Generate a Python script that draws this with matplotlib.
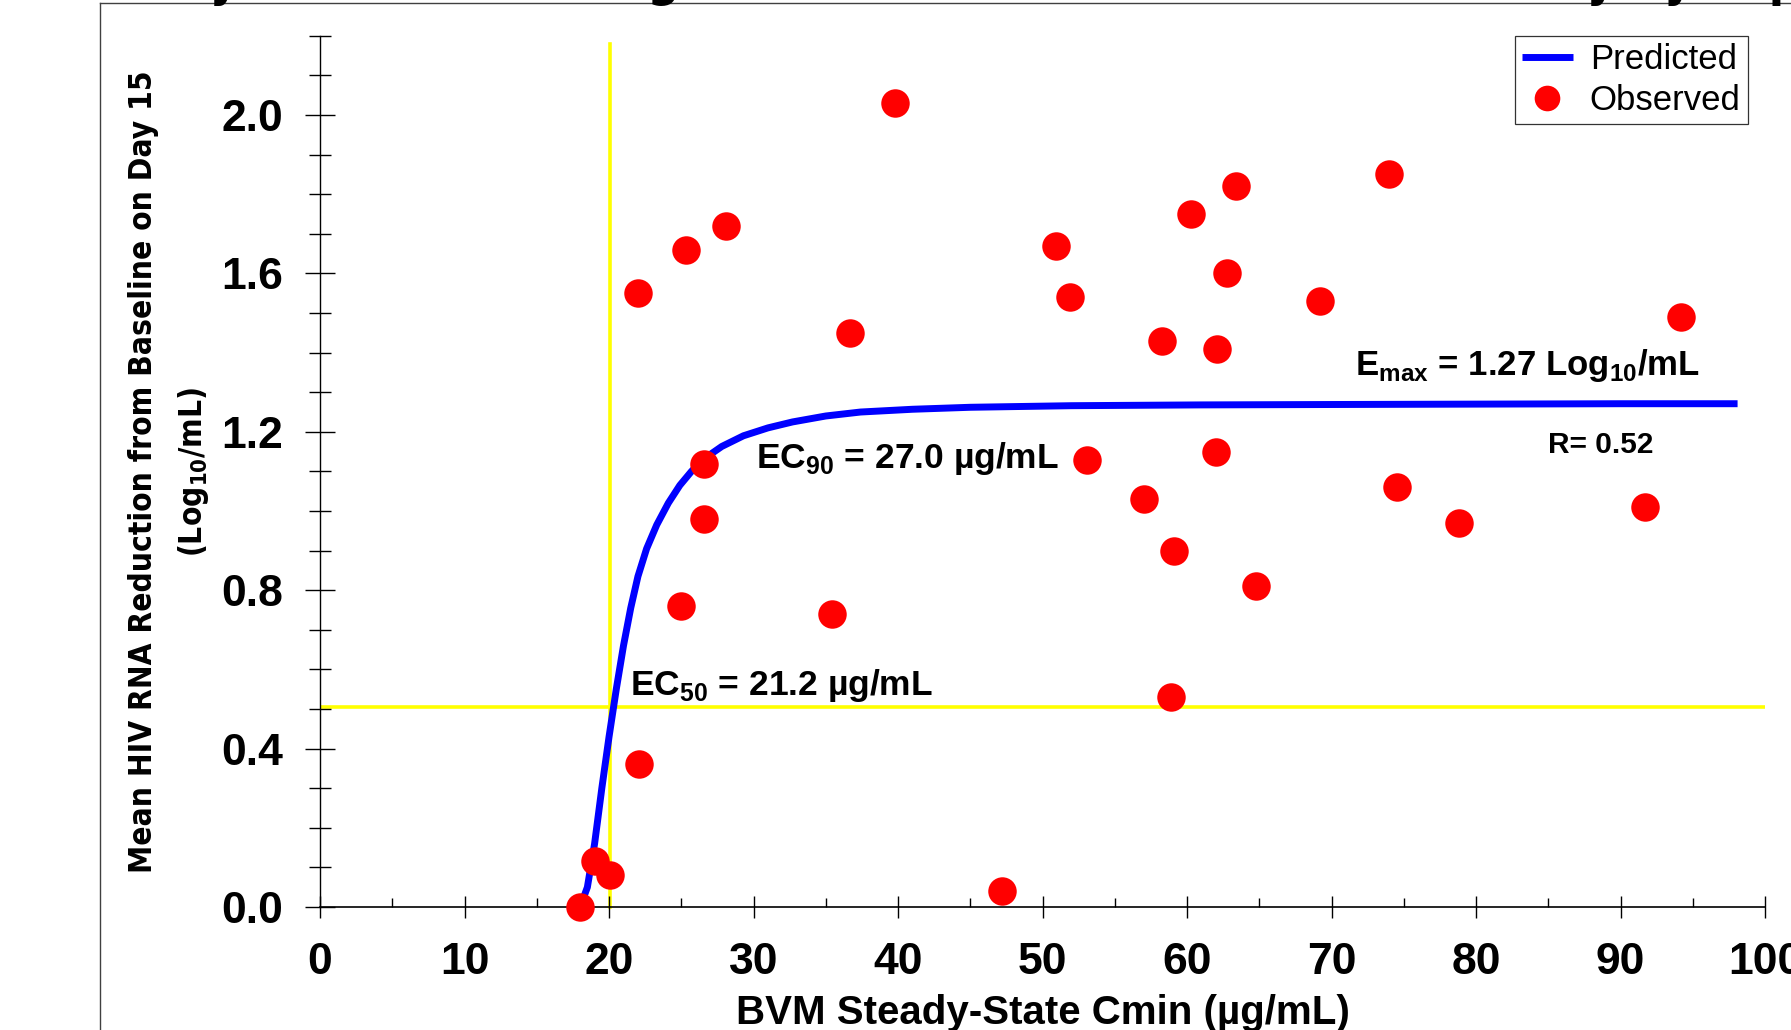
import matplotlib.pyplot as plt
from matplotlib.ticker import MultipleLocator
from matplotlib.lines import Line2D
from matplotlib import font_manager

plt.rcParams['font.family'] = ['Liberation Sans', 'DejaVu Sans']
plt.rcParams['mathtext.fontset'] = 'custom'
plt.rcParams['mathtext.rm'] = 'Liberation Sans:bold'
plt.rcParams['mathtext.bf'] = 'Liberation Sans:bold'

# observed data: BVM steady-state Cmin vs HIV RNA reduction
cmin_obs = [18.0, 19.0, 20.1, 22.1, 22.0, 25.3, 28.1, 25.0, 26.6, 26.6, 35.4,
            36.7, 39.8, 47.2, 50.9, 51.9, 53.1, 57.0, 58.3, 58.9, 59.1, 60.3,
            62.0, 62.1, 62.8, 63.4, 64.8, 69.2, 74.0, 74.5, 78.8, 91.7, 94.2]
resp_obs = [0.00, 0.115, 0.08, 0.36, 1.55, 1.66, 1.72, 0.76, 1.12, 0.98, 0.74,
            1.45, 2.03, 0.04, 1.67, 1.54, 1.13, 1.03, 1.43, 0.53, 0.90, 1.75,
            1.15, 1.41, 1.60, 1.82, 0.81, 1.53, 1.85, 1.06, 0.97, 1.01, 1.49]

# predicted Emax curve
cmin_pred = [18.0, 18.5, 19.0, 19.5, 20.0, 20.5, 21.0, 21.5, 22.0, 22.6, 23.3,
             24.1, 24.9, 25.7, 26.5, 27.8, 29.3, 31.0, 32.7, 35.0, 37.4, 41.0,
             45.0, 52.0, 60.9, 70.0, 80.0, 90.0, 98.1]
resp_pred = [0.00, 0.05, 0.16, 0.30, 0.43, 0.55, 0.66, 0.755, 0.835, 0.905, 0.965,
             1.02, 1.065, 1.10, 1.13, 1.163, 1.19, 1.21, 1.225, 1.24, 1.25, 1.257,
             1.262, 1.266, 1.268, 1.269, 1.270, 1.271, 1.271]

ec50_line_x = 20.1
ec50_line_y = 0.505

# condensed bold face for the y label if one is installed
ylab_font = dict(family='Liberation Sans')
try:
    font_manager.findfont(font_manager.FontProperties(family='Liberation Sans Narrow', weight='bold'),
                          fallback_to_default=False)
    ylab_font = dict(family='Liberation Sans Narrow')
except Exception:
    p = font_manager.findfont(font_manager.FontProperties(family='DejaVu Sans', stretch='condensed',
                                                          weight='bold'))
    if 'Condensed' in p:
        ylab_font = dict(family='DejaVu Sans', fontstretch='condensed')

fig = plt.figure(figsize=(17.91, 10.30), dpi=100)
ax = fig.add_axes([0.1787, 0.1194, 0.8068, 0.8458])

# reference lines
ax.axhline(ec50_line_y, xmin=0, xmax=1, color='#FFFF00', lw=2.6, zorder=1)
ax.plot([ec50_line_x, ec50_line_x], [0, 2.18], color='#FFFF00', lw=2.6, zorder=1, clip_on=False)

ax.plot(cmin_pred, resp_pred, color='#0000FF', lw=5, zorder=2, label='Predicted',
        solid_capstyle='butt', solid_joinstyle='round')
ax.plot(cmin_obs, resp_obs, 'o', color='#FF0000', ms=20.5, mec='none', zorder=3,
        clip_on=False, label='Observed')

ax.set_xlim(0, 100)
ax.set_ylim(0, 2.2)
ax.spines['top'].set_visible(False)
ax.spines['right'].set_visible(False)
ax.spines['left'].set_linewidth(1.0)
ax.spines['bottom'].set_linewidth(1.2)

ax.xaxis.set_major_locator(MultipleLocator(10))
ax.xaxis.set_minor_locator(MultipleLocator(5))
ax.yaxis.set_major_locator(MultipleLocator(0.4))
ax.yaxis.set_minor_locator(MultipleLocator(0.1))
ax.tick_params(axis='x', which='major', direction='inout', length=16, width=1, pad=17,
               labelsize=32)
ax.tick_params(axis='x', which='minor', direction='in', length=6.5, width=1)
ax.tick_params(axis='y', which='major', direction='inout', length=21.5, width=1, pad=16,
               labelsize=32)
ax.tick_params(axis='y', which='minor', direction='inout', length=16.5, width=1)
for lab in ax.get_xticklabels():
    lab.set_fontweight('bold')
ax.set_yticks([0.0, 0.4, 0.8, 1.2, 1.6, 2.0])
ax.set_yticklabels(['0.0', '0.4', '0.8', '1.2', '1.6', '2.0'], fontweight='bold', fontsize=32)

ax.set_xlabel('BVM Steady-State Cmin (µg/mL)', fontsize=29, fontweight='bold', labelpad=8)
ax.set_ylabel('Mean HIV RNA Reduction from Baseline on Day 15\n(Log$_{\\mathregular{10}}$/mL)',
              fontsize=22.7, fontweight='bold', labelpad=7, linespacing=1.65, **ylab_font)

# annotations
ax.text(71.6, 1.343, 'E$_{\\mathregular{max}}$ = 1.27 Log$_{\\mathregular{10}}$/mL',
        fontsize=25, fontweight='bold')
ax.text(85.0, 1.146, 'R= 0.52', fontsize=21.5, fontweight='bold')
ax.text(30.2, 1.108, 'EC$_{\\mathregular{90}}$ = 27.0 µg/mL', fontsize=25.5, fontweight='bold')
ax.text(21.45, 0.535, 'EC$_{\\mathregular{50}}$ = 21.2 µg/mL', fontsize=25.5, fontweight='bold')

leg = ax.legend(loc='upper right', bbox_to_anchor=(0.988, 1.0), fontsize=25,
                frameon=True, fancybox=False, edgecolor='black', borderpad=0.2,
                handlelength=1.45, handletextpad=0.5, labelspacing=0.25, markerscale=0.9,
                borderaxespad=0)
leg.get_frame().set_linewidth(0.9)

# outer frame of the original slide and the clipped title
fig.add_artist(Line2D([0.0558, 0.0558], [0, 0.997], color='#404040', lw=1))
fig.add_artist(Line2D([0.0558, 1.0], [0.997, 0.997], color='#404040', lw=1))
fig.text(0.035, 1.004, 'Steady-State BVM Trough Concentration vs. Antiviral Activity by Exposure',
         fontsize=36, fontweight='bold', va='baseline', ha='left', **ylab_font)

fig.savefig('out.png', dpi=100)
